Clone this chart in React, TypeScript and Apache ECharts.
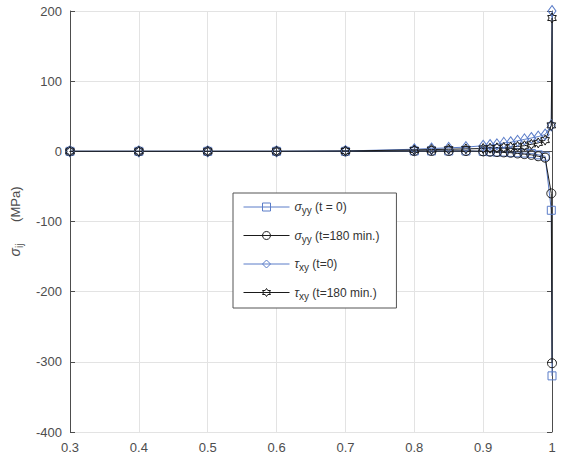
import React, { useEffect, useRef } from "react";
import * as echarts from "echarts";

const xValues = [0.3, 0.4, 0.5, 0.6, 0.7, 0.8, 0.825, 0.85, 0.875, 0.9, 0.91, 0.92, 0.93, 0.94, 0.95, 0.96, 0.97, 0.98, 0.99, 0.999, 1];
const sigmaYY0 = [0, 0, 0, 0, 0, 0.5, 0.5, 0.5, 0.5, 0, -0.5, -1, -1, -1.5, -2, -2.5, -3, -5, -7, -84, -320];
const sigmaYY180 = [0, 0, 0, 0, 0, 0.5, 0.5, 0.5, 0.5, 0, -0.5, -1, -1.5, -2, -3, -4, -5, -7, -9, -60, -302];
const tauXY0 = [0, 0, 0, 0, 0.5, 3, 4, 5, 6, 8, 9, 10, 12, 13, 15, 17, 19, 21, 24, 37, 200];
const tauXY180 = [0, 0, 0, 0, 0.5, 2, 2.5, 3, 3.5, 4, 4.5, 5, 5.5, 6, 7, 8, 10, 12, 16, 37, 190];

const seriesNames = ["s0", "s180", "t0", "t180"];
const legendLabels: Record<string, string> = {
  s0: "{g|σ}{sub|yy} (t = 0)",
  s180: "{g|σ}{sub|yy} (t=180 min.)",
  t0: "{g|τ}{sub|xy} (t=0)",
  t180: "{g|τ}{sub|xy} (t=180 min.)",
};

const xTicks = { min: 0.3, max: 1, interval: 0.1 };
const yTicks = { min: -400, max: 200, interval: 100 };

const BLUE = "#5a7cc8";
const BLACK = "#1a1a1a";
const HEXAGRAM =
  "path://M0,-10L2.89,-5L8.66,-5L5.77,0L8.66,5L2.89,5L0,10L-2.89,5L-8.66,5L-5.77,0L-8.66,-5L-2.89,-5Z";

function pairs(ys: number[]) {
  return xValues.map((x, i) => [x, ys[i]]);
}

export default function App() {
  const ref = useRef<HTMLDivElement>(null);
  useEffect(() => {
    if (!ref.current) return;
    const chart = echarts.init(ref.current, null, { renderer: "svg" });
    const axisColor = "#4d4d4d";
    const font = "Liberation Sans, Arial, sans-serif";
    const mkSeries = (name: string, ys: number[], color: string, symbol: string, size: any) => ({
      name,
      type: "line",
      data: pairs(ys),
      symbol,
      symbolSize: size,
      symbolKeepAspect: true,
      showAllSymbol: true,
      lineStyle: { color, width: 1 },
      itemStyle: { color: "rgba(0,0,0,0)", borderColor: color, borderWidth: 1 },
      emphasis: { disabled: true },
      z: 3,
    });
    chart.setOption({
      animation: false,
      textStyle: { fontFamily: font },
      grid: { left: 70, top: 11, width: 482, height: 421, containLabel: false, outerBoundsMode: "none" },
      xAxis: [
        {
          type: "value",
          min: xTicks.min,
          max: xTicks.max,
          interval: xTicks.interval,
          position: "bottom",
          name: "ξ",
          nameLocation: "middle",
          nameGap: 43,
          nameTextStyle: { fontSize: 14, color: axisColor, fontStyle: "italic" },
          axisLine: { show: true, lineStyle: { color: axisColor, width: 1 } },
          axisTick: { show: true, inside: true, length: 5, lineStyle: { color: axisColor } },
          axisLabel: {
            color: axisColor,
            fontSize: 13,
            margin: 9,
            formatter: (v: number) => (Math.abs(v - 1) < 1e-9 ? "1" : v.toFixed(1)),
          },
          splitLine: { show: true, lineStyle: { color: "#e3e3e3", width: 1 } },
        },
        {
          type: "value",
          min: xTicks.min,
          max: xTicks.max,
          interval: xTicks.interval,
          position: "top",
          axisLine: { show: true, lineStyle: { color: axisColor, width: 1 } },
          axisTick: { show: true, inside: true, length: 5, lineStyle: { color: axisColor } },
          axisLabel: { show: false },
          splitLine: { show: false },
        },
      ],
      yAxis: [
        {
          type: "value",
          min: yTicks.min,
          max: yTicks.max,
          interval: yTicks.interval,
          position: "left",
          name: "{g|σ}{sub|ij}      (MPa)",
          nameLocation: "middle",
          nameGap: 46,
          nameRotate: 90,
          nameTextStyle: {
            color: axisColor,
            fontSize: 13,
            rich: {
              g: { fontSize: 14, fontStyle: "italic", color: axisColor },
              sub: { fontSize: 10, color: axisColor, padding: [8, 0, 0, 0] },
            },
          },
          axisLine: { show: true, lineStyle: { color: axisColor, width: 1 } },
          axisTick: { show: true, inside: true, length: 5, lineStyle: { color: axisColor } },
          axisLabel: { color: axisColor, fontSize: 13, margin: 8 },
          splitLine: { show: true, lineStyle: { color: "#e3e3e3", width: 1 } },
        },
        {
          type: "value",
          min: yTicks.min,
          max: yTicks.max,
          interval: yTicks.interval,
          position: "right",
          axisLine: { show: true, lineStyle: { color: axisColor, width: 1 } },
          axisTick: { show: true, inside: true, length: 5, lineStyle: { color: axisColor } },
          axisLabel: { show: false },
          splitLine: { show: false },
        },
      ],
      legend: {
        orient: "vertical",
        left: 233,
        top: 193,
        data: seriesNames,
        itemWidth: 46,
        itemHeight: 10,
        itemGap: 14,
        padding: [8, 17, 7, 10],
        backgroundColor: "#ffffff",
        borderColor: "#555555",
        borderWidth: 1,
        borderRadius: 0,
        lineStyle: { width: 1 },
        itemStyle: { borderWidth: 1 },
        formatter: (n: string) => legendLabels[n],
        textStyle: {
          fontSize: 12,
          color: "#333333",
          rich: {
            g: { fontSize: 12, fontStyle: "italic", color: "#333333" },
            sub: { fontSize: 10, color: "#333333", padding: [7, 0, 0, 0] },
          },
        },
      },
      series: [
        mkSeries("s0", sigmaYY0, BLUE, "rect", 8),
        mkSeries("s180", sigmaYY180, BLACK, "circle", 9),
        mkSeries("t0", tauXY0, BLUE, "diamond", [8, 11]),
        mkSeries("t180", tauXY180, BLACK, HEXAGRAM, [10, 10]),
      ],
    });
    return () => chart.dispose();
  }, []);
  return (
    <div
      ref={ref}
      style={{ position: "absolute", left: 0, top: 0, width: 568, height: 468 }}
    />
  );
}
